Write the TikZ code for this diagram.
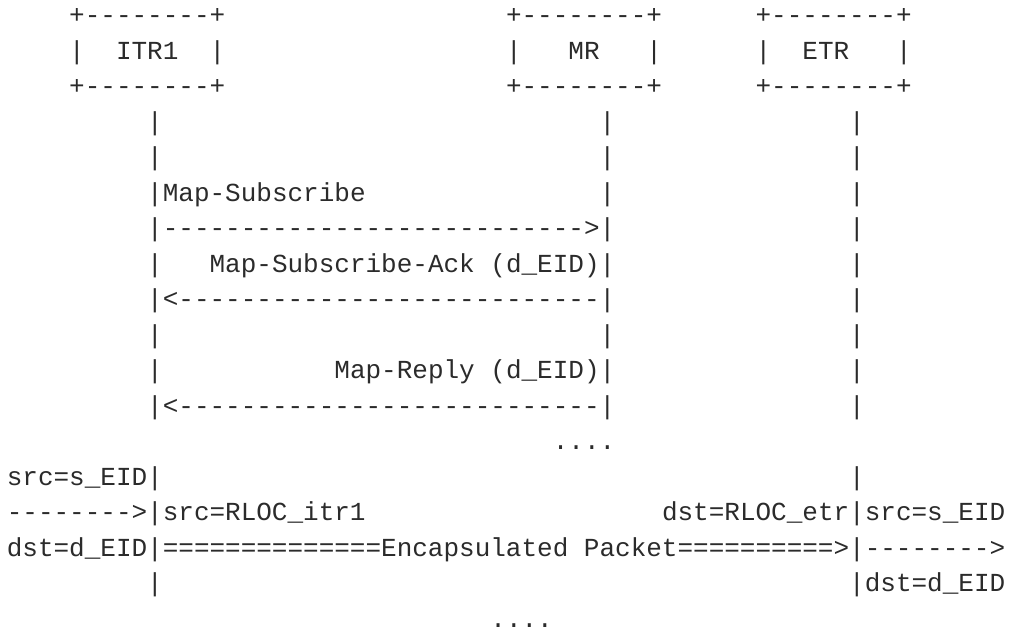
\documentclass[tikz,border=0pt]{standalone}
\usepackage{fontspec}
\setmonofont{Liberation Mono}
\definecolor{ink}{HTML}{2B2B2B}
\tikzset{
  txt/.style={anchor=base west, inner sep=0pt, outer sep=0pt,
    font=\ttfamily\fontsize{26pt}{30pt}\selectfont\frenchspacing, text=ink}
}
\newcommand{\colx}[1]{6.8pt+#1*15.6pt}
\newcommand{\rowy}[1]{611pt-#1*35.5pt}
\newcommand{\tline}[4]{\node[txt] (#1) at ({\colx{#2}},{\rowy{#3}}) {#4};}
\begin{document}
\begin{tikzpicture}
\useasboundingbox (0,0) rectangle (1010pt,635pt);
% boxes
\tline{itrT}{4}{0}{+--------+}
\tline{mrT}{32}{0}{+--------+}
\tline{etrT}{48}{0}{+--------+}
\tline{itrL}{4}{1}{|}
\tline{itr}{7}{1}{ITR1}
\tline{itrR}{13}{1}{|}
\tline{mrL}{32}{1}{|}
\tline{mr}{36}{1}{MR}
\tline{mrR}{41}{1}{|}
\tline{etrL}{48}{1}{|}
\tline{etr}{51}{1}{ETR}
\tline{etrR}{57}{1}{|}
\tline{itrB}{4}{2}{+--------+}
\tline{mrB}{32}{2}{+--------+}
\tline{etrB}{48}{2}{+--------+}
% plain lifeline rows
\foreach \r in {3,4,9}{
  \tline{li\r}{9}{\r}{|}
  \tline{lm\r}{38}{\r}{|}
  \tline{le\r}{54}{\r}{|}
}
% Map-Subscribe
\tline{subl}{9}{5}{|Map-Subscribe}
\tline{lm5}{38}{5}{|}
\tline{le5}{54}{5}{|}
\tline{suba}{9}{6}{|--------------------------->|}
\tline{le6}{54}{6}{|}
% Ack
\tline{li7}{9}{7}{|}
\tline{ackl}{13}{7}{Map-Subscribe-Ack (d\_EID)|}
\tline{le7}{54}{7}{|}
\tline{acka}{9}{8}{|<---------------------------|}
\tline{le8}{54}{8}{|}
% Map-Reply
\tline{li10}{9}{10}{|}
\tline{repl}{21}{10}{Map-Reply (d\_EID)|}
\tline{le10}{54}{10}{|}
\tline{repa}{9}{11}{|<---------------------------|}
\tline{le11}{54}{11}{|}
\tline{dots1}{35}{12}{....}
% data packet
\tline{src1}{0}{13}{src=s\_EID|}
\tline{le13}{54}{13}{|}
\tline{in}{0}{14}{-------->|src=RLOC\_itr1}
\tline{outh}{42}{14}{dst=RLOC\_etr|src=s\_EID}
\tline{encap}{0}{15}{dst=d\_EID|==============Encapsulated Packet==========>|-------->}
\tline{li16}{9}{16}{|}
\tline{outd}{54}{16}{|dst=d\_EID}
\tline{dots2}{31}{17}{....}
\end{tikzpicture}
\end{document}
